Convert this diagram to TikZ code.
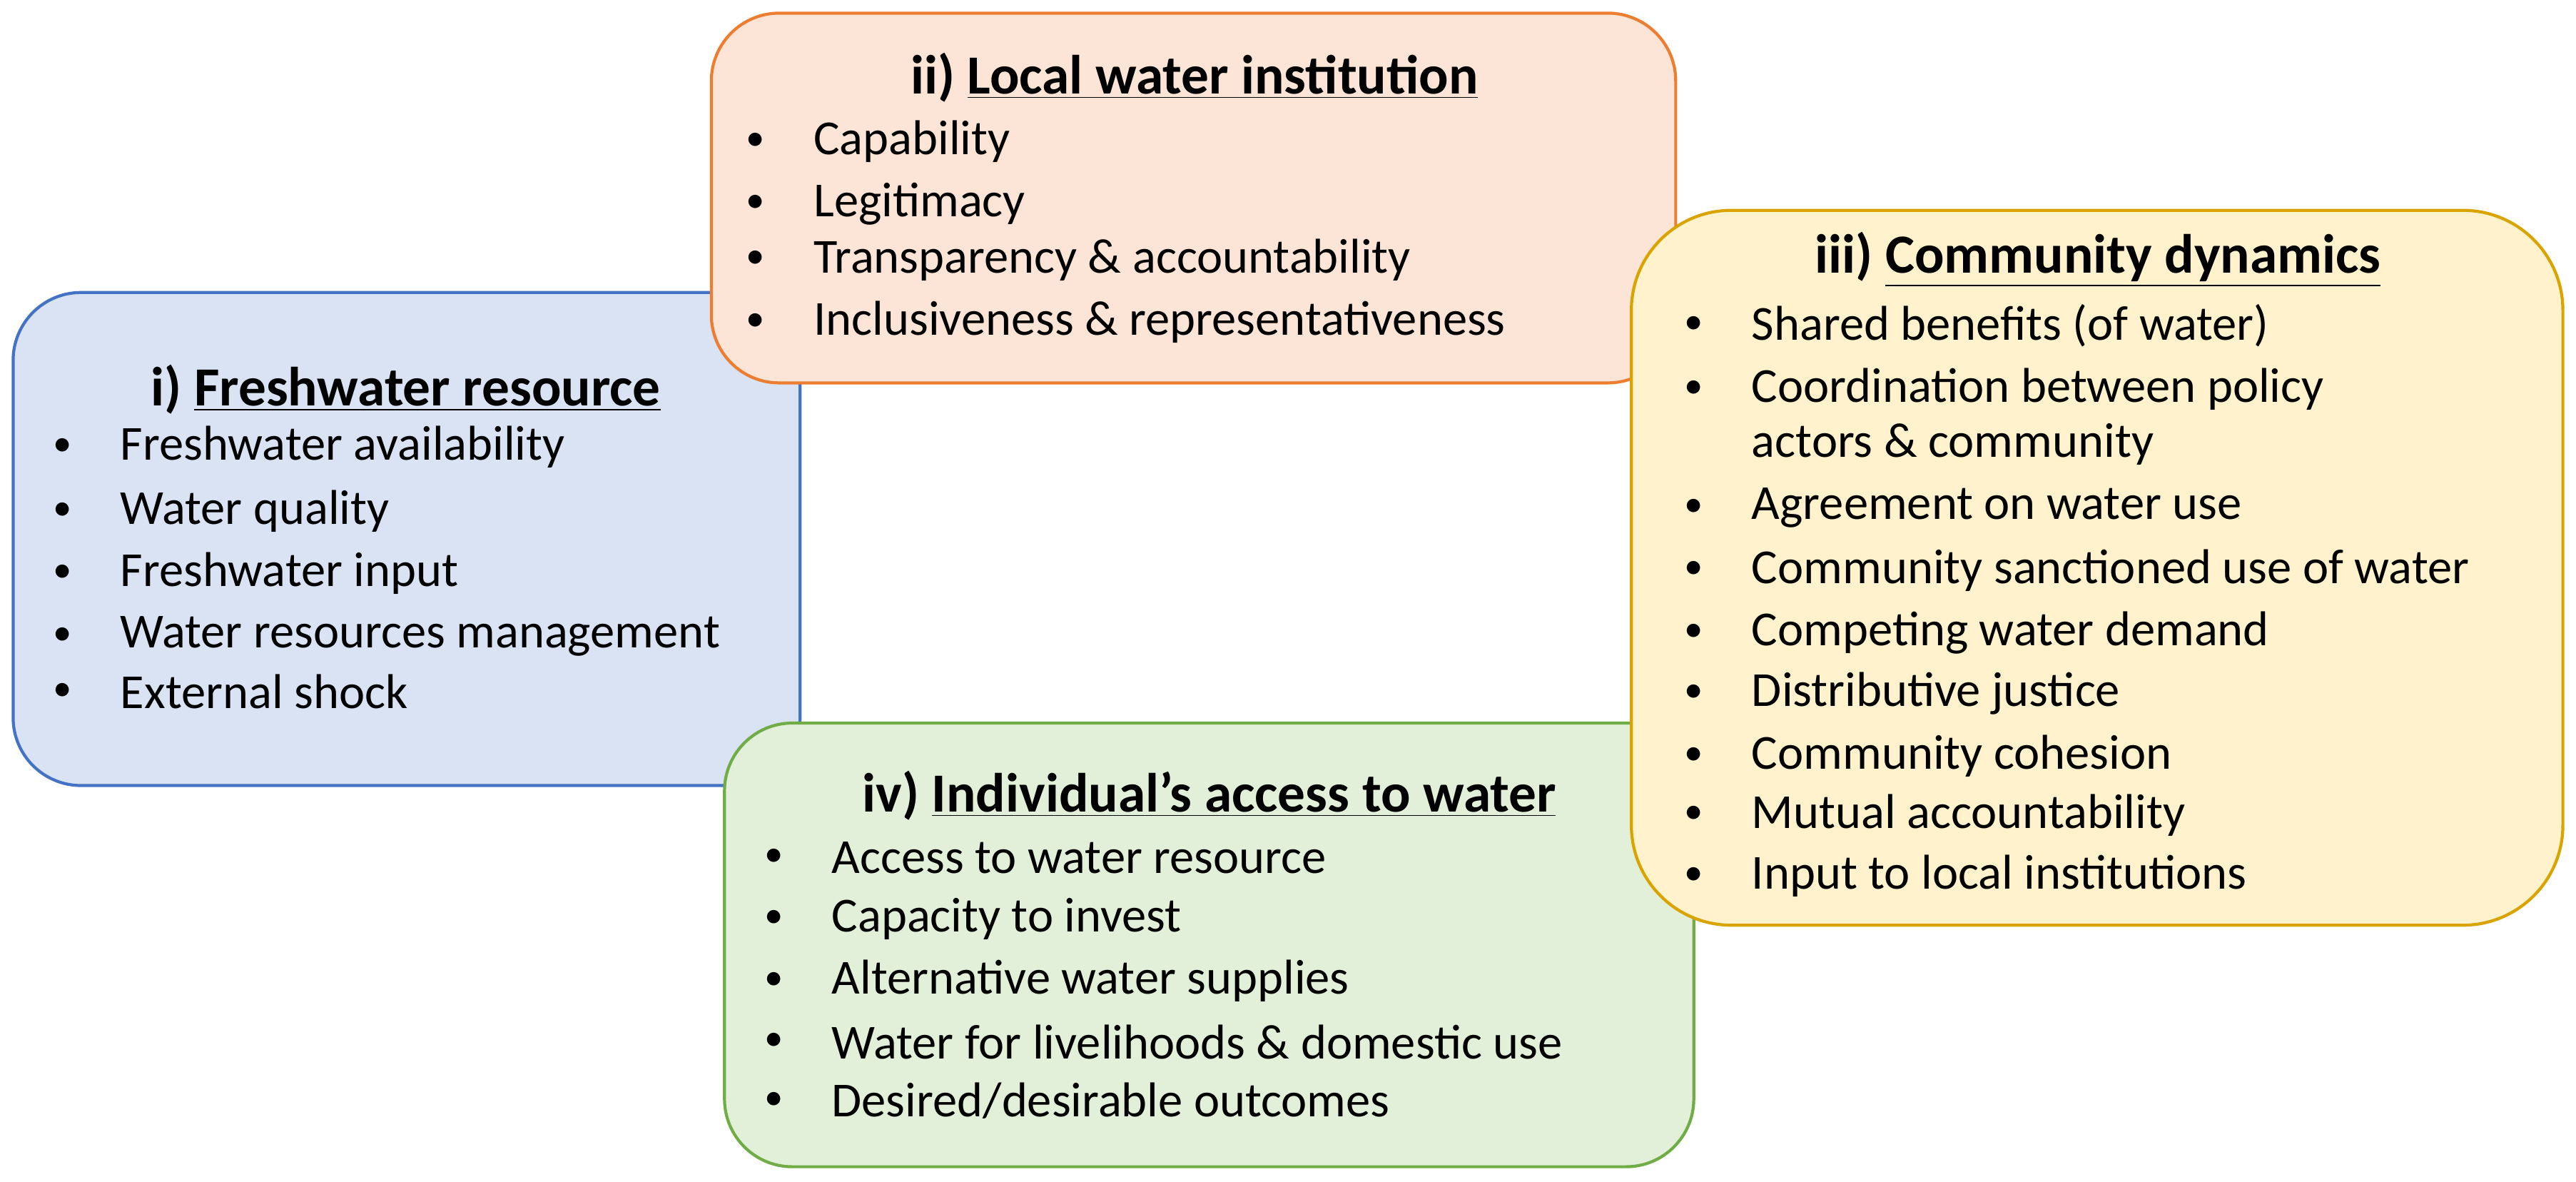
\documentclass[tikz,border=0pt]{standalone}
\usepackage{fontspec}
\setmainfont{Carlito}
\begin{document}
\begin{tikzpicture}[x=0.02302cm,y=-0.02302cm,
  box/.style={line width=1.2pt},
  ttl/.style={font=\fontsize{22}{26}\selectfont\bfseries,inner sep=0},
  itm/.style={font=\fontsize{19.5}{24}\selectfont,inner sep=0,anchor=west,align=left},
  bul/.style={font=\fontsize{15}{18}\selectfont,inner sep=0}]
\useasboundingbox (0,0) rectangle (1568,719);
\definecolor{bfill}{HTML}{DAE3F3}\definecolor{bline}{HTML}{4472C4}
\definecolor{ofill}{HTML}{FCE4D6}\definecolor{oline}{HTML}{ED7D31}
\definecolor{yfill}{HTML}{FFF2CC}\definecolor{yline}{HTML}{D9A400}
\definecolor{gfill}{HTML}{E2F0D9}\definecolor{gline}{HTML}{70AD47}
\newcommand{\bitem}[4]{\node[bul] (b#1) at (#2,#3) {\textbullet}; \node[itm] (t#1) at (#2+35,#3) {#4};}
% blue
\draw[box,fill=bfill,draw=bline,rounded corners=0.95cm] (8,178) rectangle (487,478);
\node[ttl] (ti) at (247,237) {i) \underline{Freshwater resource}};
\bitem{i1}{38}{272}{Freshwater availability}
\bitem{i2}{38}{311}{Water quality}
\bitem{i3}{38}{349}{Freshwater input}
\bitem{i4}{38}{387}{Water resources management}
\bitem{i5}{38}{421}{External shock}
% orange
\draw[box,fill=ofill,draw=oline,rounded corners=0.95cm] (433,8) rectangle (1020,233);
\node[ttl] (tii) at (727,47) {ii) \underline{Local water institution}};
\bitem{o1}{460}{86}{Capability}
\bitem{o2}{460}{124}{Legitimacy}
\bitem{o3}{460}{158}{Transparency \& accountability}
\bitem{o4}{460}{196}{Inclusiveness \& representativeness}
% green
\draw[box,fill=gfill,draw=gline,rounded corners=0.95cm] (441,440) rectangle (1031,710);
\node[ttl] (tiv) at (736,484) {iv) \underline{Individual’s access to water}};
\bitem{g1}{471}{522}{Access to water resource}
\bitem{g2}{471}{559}{Capacity to invest}
\bitem{g3}{471}{597}{Alternative water supplies}
\bitem{g4}{471}{634}{Water for livelihoods \& domestic use}
\bitem{g5}{471}{670}{Desired/desirable outcomes}
% yellow
\draw[box,fill=yfill,draw=yline,rounded corners=1.4cm] (993,128) rectangle (1560,563);
\node[ttl] (tiii) at (1277,158) {iii) \underline{Community dynamics}};
\bitem{y1}{1031}{198}{Shared benefits (of water)}
\node[bul] (by2) at (1031,237) {\textbullet};
\node[itm,font=\fontsize{19.5}{21.8}\selectfont] (ty2) at (1066,253.5) {Coordination between policy\\actors \& community};
\bitem{y3}{1031}{309}{Agreement on water use}
\bitem{y4}{1031}{347}{Community sanctioned use of water}
\bitem{y5}{1031}{385}{Competing water demand}
\bitem{y6}{1031}{422}{Distributive justice}
\bitem{y7}{1031}{460}{Community cohesion}
\bitem{y8}{1031}{496}{Mutual accountability}
\bitem{y9}{1031}{533}{Input to local institutions}
\end{tikzpicture}
\end{document}
